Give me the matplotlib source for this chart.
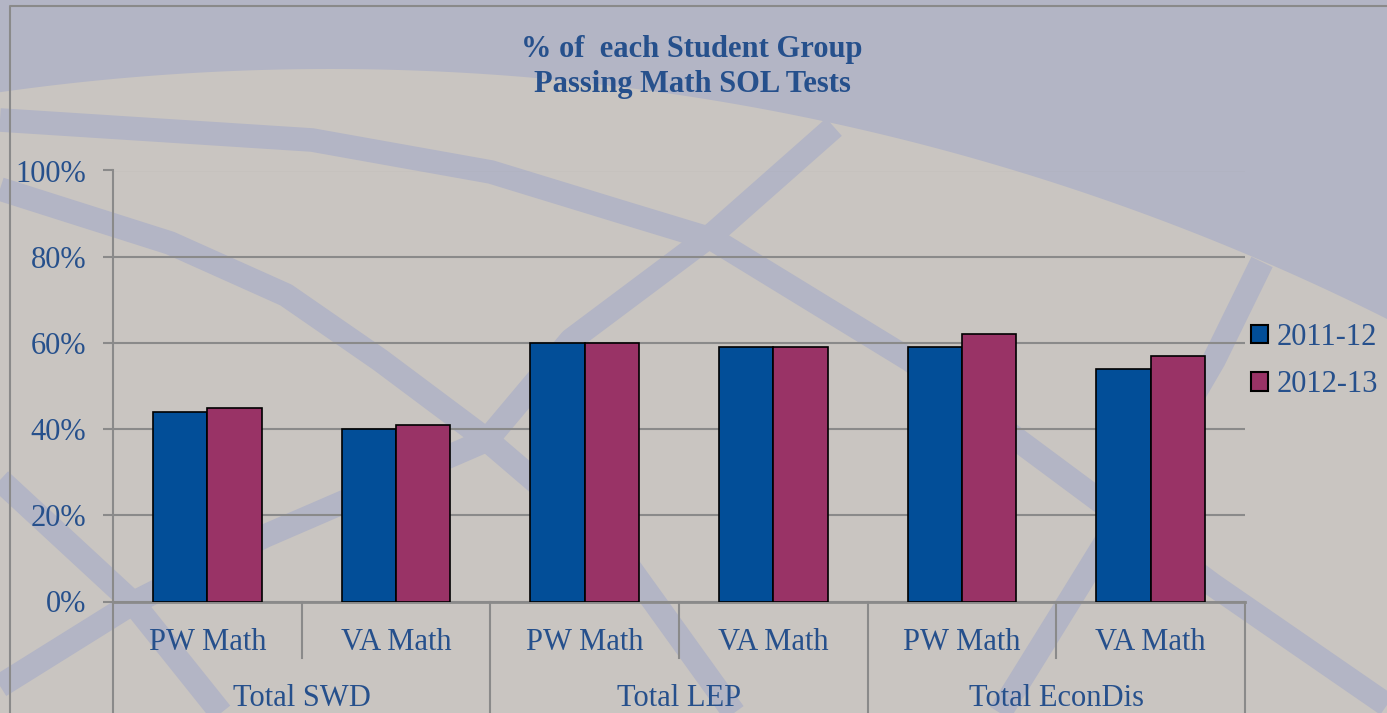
import numpy as np
import matplotlib
matplotlib.use('Agg')
import matplotlib.pyplot as plt
from matplotlib.patches import Patch, Polygon

# --- Data ---
GROUPS = ['Total SWD', 'Total LEP', 'Total EconDis']
TESTS = ['PW Math', 'VA Math']
YEARS = ['2011-12', '2012-13']
PASS_2011_12 = [44, 40, 60, 59, 59, 54]
PASS_2012_13 = [45, 41, 60, 59, 62, 57]
Y_TICKS = [0, 20, 40, 60, 80, 100]

# --- Style ---
BLUE = '#024E98'
PLUM = '#993366'
TEXT = '#26508C'
GRID = '#8A8A8A'
BEIGE = '#C9C5C1'
LAVENDER = '#B3B5C5'
FONT = 'Liberation Serif'
FS = 22

W, H = 1387, 713

plt.rcParams['font.family'] = [FONT, 'DejaVu Serif']

fig = plt.figure(figsize=(W / 100, H / 100), dpi=100)
fig.patch.set_facecolor(BEIGE)

# --- decorative background (globe-like bands), pixel coords ---
bg = fig.add_axes([0, 0, 1, 1], zorder=-10)
bg.set_xlim(0, W)
bg.set_ylim(H, 0)
bg.axis('off')
xs = np.linspace(0, W, 200)
ys = 2429 - np.sqrt(2360 ** 2 - (xs - 330) ** 2)
cap = np.column_stack([np.r_[xs, W, 0], np.r_[ys, 0, 0]])
bg.add_patch(Polygon(cap, closed=True, facecolor=LAVENDER, lw=0))
bands = [
    [(0, 120), (312, 140), (491, 172), (625, 213), (714, 240), (910, 360), (1213, 585), (1387, 705)],
    [(0, 189), (170, 243), (286, 295), (380, 360), (487, 440), (619, 553), (734, 713)],
    [(834, 127), (714, 233), (571, 340), (487, 440), (265, 536), (133, 603), (0, 686)],
    [(0, 480), (133, 603), (221, 713)],
    [(1262, 262), (1214, 360), (1150, 470), (1070, 600), (1000, 713)],
]
for band in bands:
    bx, by = zip(*band)
    bg.plot(bx, by, color=LAVENDER, lw=17, solid_capstyle='butt', solid_joinstyle='round')
bg.plot([10, 10, W], [H, 6, 6], color=GRID, lw=1.5)

# --- main chart ---
ax = fig.add_axes([113 / W, 1 - 601.5 / H, (1245 - 113) / W, (601.5 - 170.5) / H])
ax.set_facecolor('none')

x = np.arange(len(PASS_2011_12))
w = 0.288
ax.bar(x - w / 2, PASS_2011_12, w, color=BLUE, edgecolor='black', lw=1.2, zorder=3)
ax.bar(x + w / 2, PASS_2012_13, w, color=PLUM, edgecolor='black', lw=1.2, zorder=3)

ax.set_xlim(-0.5, len(x) - 0.5)
ax.set_ylim(0, 100)
ax.set_yticks(Y_TICKS)
ax.set_yticklabels([f'{v}%' for v in Y_TICKS])
ax.tick_params(axis='y', length=7.2, width=1.5, color=GRID, pad=12,
               labelsize=FS, labelcolor=TEXT)
ax.set_xticks([])
ax.grid(axis='y', color=GRID, lw=1.5)
ax.set_axisbelow(True)
for side in ['top', 'right']:
    ax.spines[side].set_visible(False)
ax.spines['left'].set_color(GRID)
ax.spines['left'].set_linewidth(1.5)
ax.spines['bottom'].set_color(GRID)
ax.spines['bottom'].set_linewidth(2)

# two-level category axis
trans = ax.get_xaxis_transform()
for i, lab in enumerate(TESTS * len(GROUPS)):
    ax.text(i, -0.1125, lab, transform=trans, ha='center', va='baseline',
            fontsize=FS, color=TEXT)
for g, name in enumerate(GROUPS):
    ax.text(2 * g + 0.5, -0.2425, name, transform=trans, ha='center', va='baseline',
            fontsize=FS, color=TEXT)
for b in np.arange(-0.5, len(x), 1.0):
    short = int(b + 0.5) % 2 == 1
    depth = -0.13 if short else -0.27
    ax.plot([b, b], [0, depth], transform=trans, clip_on=False, color=GRID, lw=1.5)

# legend
handles = [Patch(facecolor=BLUE, edgecolor='black', lw=1.5, label=YEARS[0]),
           Patch(facecolor=PLUM, edgecolor='black', lw=1.5, label=YEARS[1])]
fig.legend(handles=handles, loc='center left', bbox_to_anchor=(1251 / W, 1 - 361 / H),
           frameon=False, fontsize=FS, labelcolor=TEXT, handlelength=0.55,
           handleheight=0.55, handletextpad=0.3, labelspacing=0.6,
           borderpad=0, borderaxespad=0)

# title
fig.text(692 / W, 1 - 57 / H, '% of  each Student Group', ha='center', va='baseline',
         fontsize=FS, fontweight='bold', color=TEXT)
fig.text(692 / W, 1 - 92 / H, 'Passing Math SOL Tests', ha='center', va='baseline',
         fontsize=FS, fontweight='bold', color=TEXT)

fig.savefig('out.png', dpi=100, facecolor=fig.get_facecolor())
